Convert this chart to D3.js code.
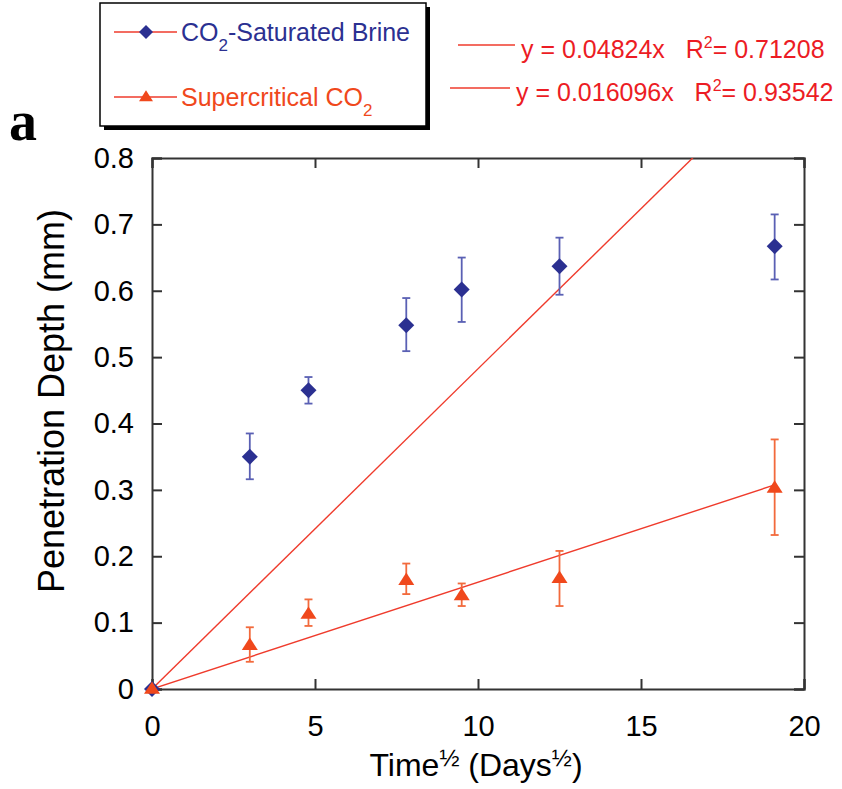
<!DOCTYPE html>
<html><head><meta charset="utf-8">
<script src="https://cdn.jsdelivr.net/npm/d3@7"></script>
<style>
html,body{margin:0;padding:0;background:#fff;}
svg{display:block;}
text{font-family:"Liberation Sans",Arial,Helvetica,sans-serif;}
</style></head>
<body>
<script>
// ---- data ----
const timeSqrt = [0, 3, 4.8, 7.8, 9.5, 12.5, 19.1];
const brineDepth = [0, 0.350, 0.450, 0.548, 0.602, 0.637, 0.667];
const brineLow  = [0, 0.316, 0.430, 0.509, 0.553, 0.594, 0.617];
const brineHigh = [0, 0.385, 0.470, 0.589, 0.650, 0.680, 0.715];
const scDepth = [0, 0.066, 0.113, 0.164, 0.141, 0.167, 0.303];
const scLow   = [0, 0.041, 0.095, 0.143, 0.125, 0.125, 0.232];
const scHigh  = [0, 0.093, 0.135, 0.189, 0.159, 0.208, 0.376];
const fitSlopes = [0.04824, 0.016096];
const fitR2 = ["0.71208", "0.93542"];
const fitSlopeLabels = ["0.04824", "0.016096"];
const xTicks = [0, 5, 10, 15, 20];
const yTicks = [0, 0.1, 0.2, 0.3, 0.4, 0.5, 0.6, 0.7, 0.8];

const W = 842, H = 789;
const L = 152, R = 804, T = 158, B = 689;
const blue = "#2b3091", orange = "#f0481c", fitColor = "#ef3b2c", eqColor = "#ec1c24";
const blueErr = "#5a60b4", orangeErr = "#f26a3c";

const svg = d3.select("body").append("svg").attr("width", W).attr("height", H);
const x = d3.scaleLinear().domain([0, 20]).range([L, R]);
const y = d3.scaleLinear().domain([0, 0.8]).range([B, T]);

svg.append("clipPath").attr("id", "plotclip").append("rect")
  .attr("x", L).attr("y", T).attr("width", R - L).attr("height", B - T);

// axes with inward ticks on all four sides
const axColor = "#333";
const tickLen = 10;
const gB = svg.append("g").attr("transform", `translate(0,${B})`)
  .call(d3.axisBottom(x).tickValues(xTicks).tickSize(-tickLen).tickPadding(tickLen + 16).tickFormat(d3.format("d")));
const gT = svg.append("g").attr("transform", `translate(0,${T})`)
  .call(d3.axisTop(x).tickValues(xTicks).tickSize(-tickLen).tickFormat(""));
const gL = svg.append("g").attr("transform", `translate(${L},0)`)
  .call(d3.axisLeft(y).tickValues(yTicks).tickSize(-tickLen).tickPadding(tickLen + 8).tickFormat(d => d === 0 ? "0" : d3.format(".1f")(d)));
const gR = svg.append("g").attr("transform", `translate(${R},0)`)
  .call(d3.axisRight(y).tickValues(yTicks).tickSize(-tickLen).tickFormat(""));
[gB, gT, gL, gR].forEach(g => {
  g.select(".domain").attr("stroke", axColor).attr("stroke-width", 2);
  g.selectAll(".tick line").attr("stroke", axColor).attr("stroke-width", 2);
  g.selectAll(".tick text").attr("fill", "#000").style("font-size", "29px")
    .style("font-family", '"Liberation Sans",Arial,sans-serif');
});

// fit lines
const fitG = svg.append("g").attr("clip-path", "url(#plotclip)");
const fitEnds = [20, timeSqrt[timeSqrt.length - 1]];
fitSlopes.forEach((s, i) => {
  fitG.append("line")
    .attr("x1", x(0)).attr("y1", y(0))
    .attr("x2", x(fitEnds[i])).attr("y2", y(s * fitEnds[i]))
    .attr("stroke", fitColor).attr("stroke-width", 1.4);
});

// error bars
function errBars(lo, hi, col) {
  const g = svg.append("g").attr("stroke", col).attr("stroke-width", 1.8);
  timeSqrt.forEach((t, i) => {
    if (hi[i] - lo[i] <= 0) return;
    g.append("line").attr("x1", x(t)).attr("x2", x(t)).attr("y1", y(lo[i])).attr("y2", y(hi[i]));
    [lo[i], hi[i]].forEach(v => g.append("line").attr("x1", x(t) - 4).attr("x2", x(t) + 4).attr("y1", y(v)).attr("y2", y(v)));
  });
}
errBars(brineLow, brineHigh, blueErr);
errBars(scLow, scHigh, orangeErr);

const diamond = (cx, cy, r) => `M${cx},${cy - r}L${cx + r},${cy}L${cx},${cy + r}L${cx - r},${cy}Z`;
const triangle = (cx, cy, r) => `M${cx},${cy - r * 0.95}L${cx + r},${cy + r * 0.6}L${cx - r},${cy + r * 0.6}Z`;

svg.append("g").selectAll("path").data(timeSqrt).join("path")
  .attr("d", (t, i) => diamond(x(t), y(brineDepth[i]), 8)).attr("fill", blue);
svg.append("g").selectAll("path").data(timeSqrt).join("path")
  .attr("d", (t, i) => triangle(x(t), y(scDepth[i]), 8)).attr("fill", orange);

// axis titles
svg.append("text").attr("x", 476).attr("y", 776).attr("text-anchor", "middle")
  .style("font-size", "32px").attr("fill", "#000")
  .call(t => {
    t.append("tspan").text("Time");
    t.append("tspan").attr("dy", -10).style("font-size", "24px").text("½");
    t.append("tspan").attr("dy", 10).text(" (Days");
    t.append("tspan").attr("dy", -10).style("font-size", "24px").text("½");
    t.append("tspan").attr("dy", 10).text(")");
  });
svg.append("text").attr("transform", "translate(64,401) rotate(-90)").attr("text-anchor", "middle")
  .style("font-size", "36px").attr("fill", "#000").text("Penetration Depth (mm)");

// panel letter
svg.append("text").attr("x", 9).attr("y", 140).style("font-family", '"Liberation Serif","Times New Roman",serif')
  .style("font-weight", "bold").style("font-size", "56px").attr("fill", "#000").text("a");

// legend box with shadow
const lg = svg.append("g");
lg.append("rect").attr("x", 104).attr("y", 7).attr("width", 326).attr("height", 123).attr("fill", "#000");
lg.append("rect").attr("x", 100).attr("y", 3).attr("width", 326).attr("height", 123).attr("fill", "#fff")
  .attr("stroke", "#000").attr("stroke-width", 1.5);
const legendItems = [
  {label: "CO", sub: "2", rest: "-Saturated Brine", color: blue, yy: 32, marker: diamond},
  {label: "Supercritical CO", sub: "2", rest: "", color: orange, yy: 97, marker: triangle}
];
legendItems.forEach(it => {
  lg.append("line").attr("x1", 114).attr("x2", 177).attr("y1", it.yy).attr("y2", it.yy)
    .attr("stroke", fitColor).attr("stroke-width", 1.4);
  lg.append("path").attr("d", it.marker(146, it.yy, 7)).attr("fill", it.color);
  const t = lg.append("text").attr("x", 181).attr("y", it.yy + 9).style("font-size", "25px").attr("fill", it.color);
  t.append("tspan").text(it.label);
  t.append("tspan").attr("dy", 10).style("font-size", "17px").text(it.sub);
  if (it.rest) t.append("tspan").attr("dy", -10).text(it.rest);
});

// fit equations
const eqY = [45, 88];
const eqLineX = [[458, 515], [450, 510]];
fitSlopes.forEach((s, i) => {
  svg.append("line").attr("x1", eqLineX[i][0]).attr("x2", eqLineX[i][1]).attr("y1", eqY[i]).attr("y2", eqY[i])
    .attr("stroke", fitColor).attr("stroke-width", 1.4);
  const t = svg.append("text").attr("x", eqLineX[i][1] + 6).attr("y", eqY[i] + 13)
    .style("font-size", "25px").attr("fill", eqColor);
  t.append("tspan").text(`y = ${fitSlopeLabels[i]}x\u00a0\u00a0\u00a0R`);
  t.append("tspan").attr("dy", -10).style("font-size", "16px").text("2");
  t.append("tspan").attr("dy", 10).text(`= ${fitR2[i]}`);
});
</script>
</body></html>
